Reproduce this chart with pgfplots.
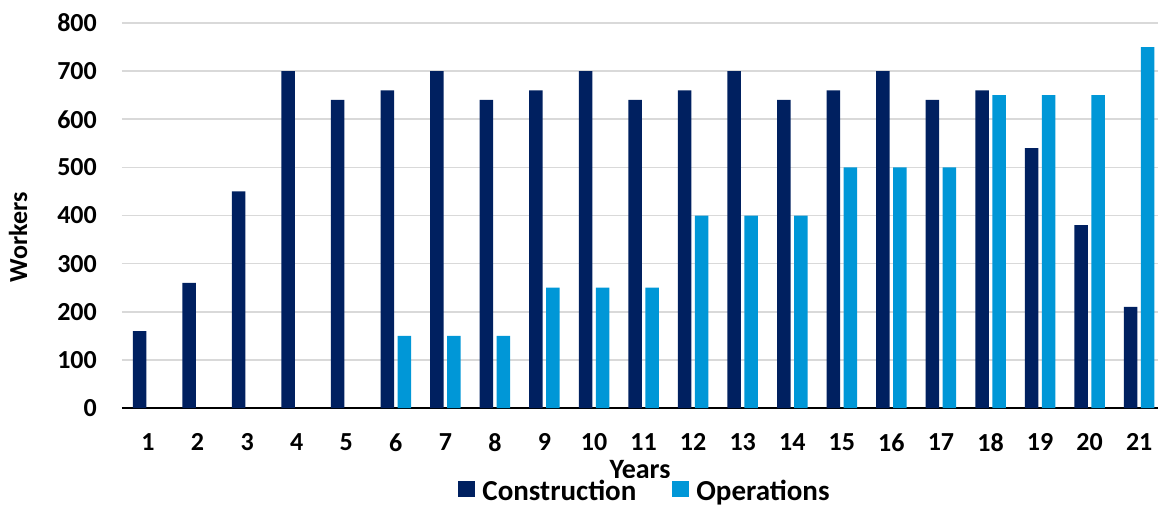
\documentclass[border=0pt]{standalone}
\usepackage{pgfplots}
\pgfplotsset{compat=1.18}
\usepackage{fontspec}
\setmainfont{Carlito}
\definecolor{navy}{HTML}{002060}
\definecolor{lblue}{HTML}{0097D7}
\definecolor{gridc}{HTML}{D9D9D9}
\pgfplotstableread{
x y
1 160
2 260
3 450
4 700
5 640
6 660
7 700
8 640
9 660
10 700
11 640
12 660
13 700
14 640
15 660
16 700
17 640
18 660
19 540
20 380
21 210
}\construction
\pgfplotstableread{
x y
6 150
7 150
8 150
9 250
10 250
11 250
12 400
13 400
14 400
15 500
16 500
17 500
18 650
19 650
20 650
21 750
}\operations
\begin{document}
\begin{tikzpicture}
\begin{axis}[
  name=ax,
  at={(0,0)}, anchor=south west,
  scale only axis,
  width=1036pt, height=385pt,
  xmin=0.475, xmax=21.38,
  ymin=0, ymax=800,
  ybar=3.5pt, bar width=13.5pt,
  axis x line*=bottom,
  axis y line*=left,
  x axis line style={line width=2.5pt, black},
  y axis line style={draw=none},
  xtick={1,...,21},
  ytick={0,100,...,800},
  tick style={draw=none},
  ymajorgrids,
  grid style={gridc, line width=1.5pt},
  font=\fontsize{26}{30}\selectfont\bfseries,
  /pgf/number format/assume math mode=true,
  ticklabel style={font=\fontsize{26}{30}\selectfont\bfseries},
  yticklabel style={anchor=east, inner sep=0pt, xshift=-25pt},
  xticklabel style={anchor=north, inner sep=0pt, yshift=-21pt, text depth=0pt},
  xlabel={Years},
  xlabel style={at={(axis description cs:0.5,0)}, anchor=base, yshift=-70pt, inner sep=0pt,
    text depth=0pt, font=\fontsize{28}{30}\selectfont\bfseries},
  ylabel={Workers},
  ylabel style={at={(axis description cs:-0.1004,0.444)}, anchor=center, inner sep=0pt},
  legend columns=2,
  legend style={draw=none, at={(axis description cs:0.5,0)}, anchor=north, yshift=-70pt, xshift=5pt,
    font=\fontsize{29}{30}\selectfont\bfseries, inner sep=0pt,
    /tikz/every even column/.append style={column sep=34pt},
    /tikz/every odd column/.append style={column sep=5pt}},
  legend image code/.code={\fill[#1] (0pt,-6pt) rectangle (17pt,10pt);},
]
\addplot[fill=navy, draw=none] table[x=x,y=y] {\construction};
\addplot[fill=lblue, draw=none] table[x=x,y=y] {\operations};
\legend{Construction, Operations}
\end{axis}
\pgfresetboundingbox
\path[use as bounding box] (-122pt,-98pt) rectangle (1037pt,408pt);
\end{tikzpicture}
\end{document}
